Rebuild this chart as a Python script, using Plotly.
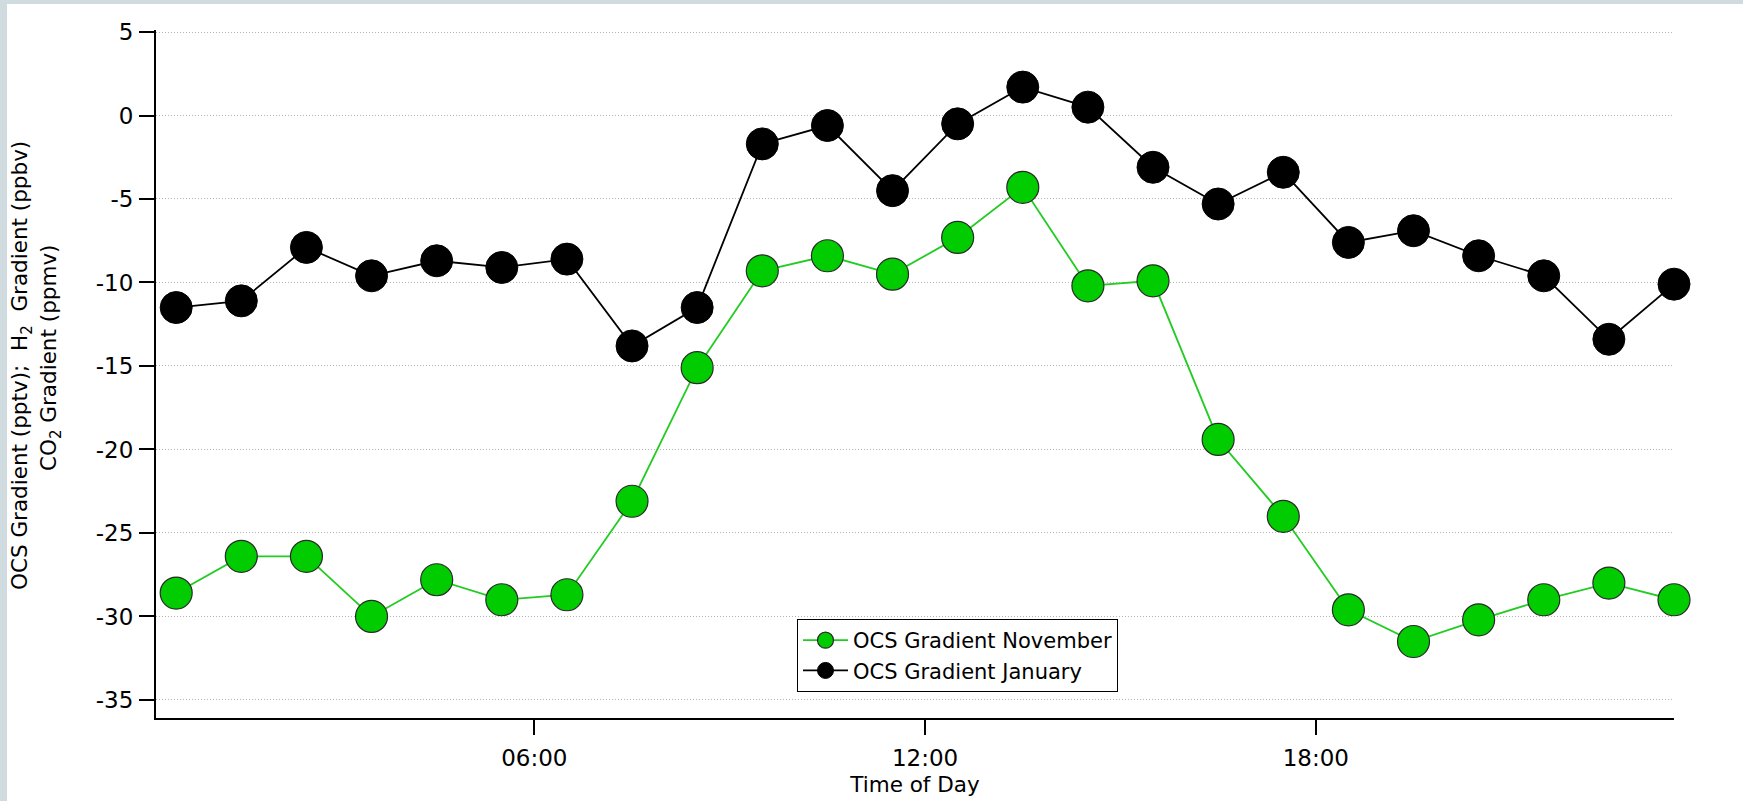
import plotly.graph_objects as go

# Hourly bin centres (time of day)
hours = ["00:30", "01:30", "02:30", "03:30", "04:30", "05:30", "06:30", "07:30",
         "08:30", "09:30", "10:30", "11:30", "12:30", "13:30", "14:30", "15:30",
         "16:30", "17:30", "18:30", "19:30", "20:30", "21:30", "22:30", "23:30"]

# OCS gradient, November campaign
ocs_november = [-28.6, -26.4, -26.4, -30.0, -27.8, -29.0, -28.7, -23.1,
                -15.1, -9.3, -8.4, -9.5, -7.3, -4.3, -10.2, -9.9,
                -19.4, -24.0, -29.6, -31.5, -30.2, -29.0, -28.0, -29.0]

# OCS gradient, January campaign
ocs_january = [-11.5, -11.1, -7.9, -9.6, -8.7, -9.1, -8.6, -13.8,
               -11.5, -1.7, -0.6, -4.5, -0.5, 1.7, 0.5, -3.1,
               -5.3, -3.4, -7.6, -6.9, -8.4, -9.6, -13.4, -10.1]

y_ticks = [5, 0, -5, -10, -15, -20, -25, -30, -35]
x_tick_labels = ["06:00", "12:00", "18:00"]

day = "2000-01-01 "
x = [day + h for h in hours]

FONT = "DejaVu Sans"
W, H = 1743, 801
ML, MR, MT, MB = 156, 69, 30, 83
PW, PH = W - ML - MR, H - MT - MB

fig = go.Figure()
fig.add_trace(go.Scatter(
    x=x, y=ocs_november, mode="lines+markers", name="OCS Gradient November",
    line=dict(color="#22cc22", width=1.8),
    marker=dict(size=32, color="#00cc00", line=dict(color="#2a2a2a", width=1.2)),
    cliponaxis=False,
))
fig.add_trace(go.Scatter(
    x=x, y=ocs_january, mode="lines+markers", name="OCS Gradient January",
    line=dict(color="#000000", width=1.8),
    marker=dict(size=32, color="#000000", line=dict(color="#000000", width=1)),
    cliponaxis=False,
))


def px_x(p):
    return (p - ML) / PW


def px_y(p):
    return (H - MB - p) / PH


# thin grey frame strips along the top and left edges of the page
frame = "#d0dbe0"
shapes = [
    dict(type="rect", xref="paper", yref="paper", x0=px_x(0), x1=px_x(7),
         y0=px_y(H), y1=px_y(0), fillcolor=frame, line=dict(width=0), layer="below"),
    dict(type="rect", xref="paper", yref="paper", x0=px_x(0), x1=px_x(W),
         y0=px_y(4), y1=px_y(0), fillcolor=frame, line=dict(width=0), layer="below"),
]

sub2 = "<sub>2</sub>"
annotations = [
    dict(text="OCS Gradient (pptv);\u00a0\u00a0H" + sub2 + "\u00a0\u00a0Gradient (ppbv)",
         xref="paper", yref="paper", x=px_x(21), y=px_y(366), textangle=-90,
         xanchor="center", yanchor="middle", showarrow=False,
         font=dict(family=FONT, size=21.5, color="#000")),
    dict(text="CO" + sub2 + " Gradient (ppmv)",
         xref="paper", yref="paper", x=px_x(50), y=px_y(358), textangle=-90,
         xanchor="center", yanchor="middle", showarrow=False,
         font=dict(family=FONT, size=21.5, color="#000")),
]

fig.update_layout(
    width=W, height=H,
    margin=dict(l=ML, r=MR, t=MT, b=MB, pad=0),
    paper_bgcolor="white", plot_bgcolor="white",
    font=dict(family=FONT, size=21, color="#000"),
    showlegend=True,
    legend=dict(x=px_x(797), y=px_y(619), xanchor="left", yanchor="top",
                bgcolor="white", bordercolor="#000", borderwidth=1,
                itemwidth=45,
                font=dict(family=FONT, size=21, color="#000")),
    shapes=shapes,
    annotations=annotations,
    xaxis=dict(
        type="date",
        range=[day + "00:11:24", day + "23:30:00"],
        tickvals=[day + t for t in x_tick_labels],
        ticktext=x_tick_labels,
        ticks="outside", ticklen=15, tickwidth=2, tickcolor="#000",
        showline=True, linewidth=2, linecolor="#000",
        showgrid=False, zeroline=False,
        automargin=False,
        tickfont=dict(family=FONT, size=23, color="#000"),
        ticklabelstandoff=3,
        title=dict(text="Time of Day", font=dict(family=FONT, size=21.5, color="#000"),
                   standoff=7),
    ),
    yaxis=dict(
        range=[-36.08, 5.12],
        tickvals=y_ticks,
        ticktext=[str(v) for v in y_ticks],
        ticks="outside", ticklen=15, tickwidth=2, tickcolor="#000",
        showline=True, linewidth=2, linecolor="#000",
        showgrid=True, gridcolor="#b4b4b4", gridwidth=1, griddash="1px,2px",
        zeroline=False,
        automargin=False,
        tickfont=dict(family=FONT, size=23, color="#000"),
        ticklabelstandoff=1,
    ),
)

fig.write_html("out.html")
